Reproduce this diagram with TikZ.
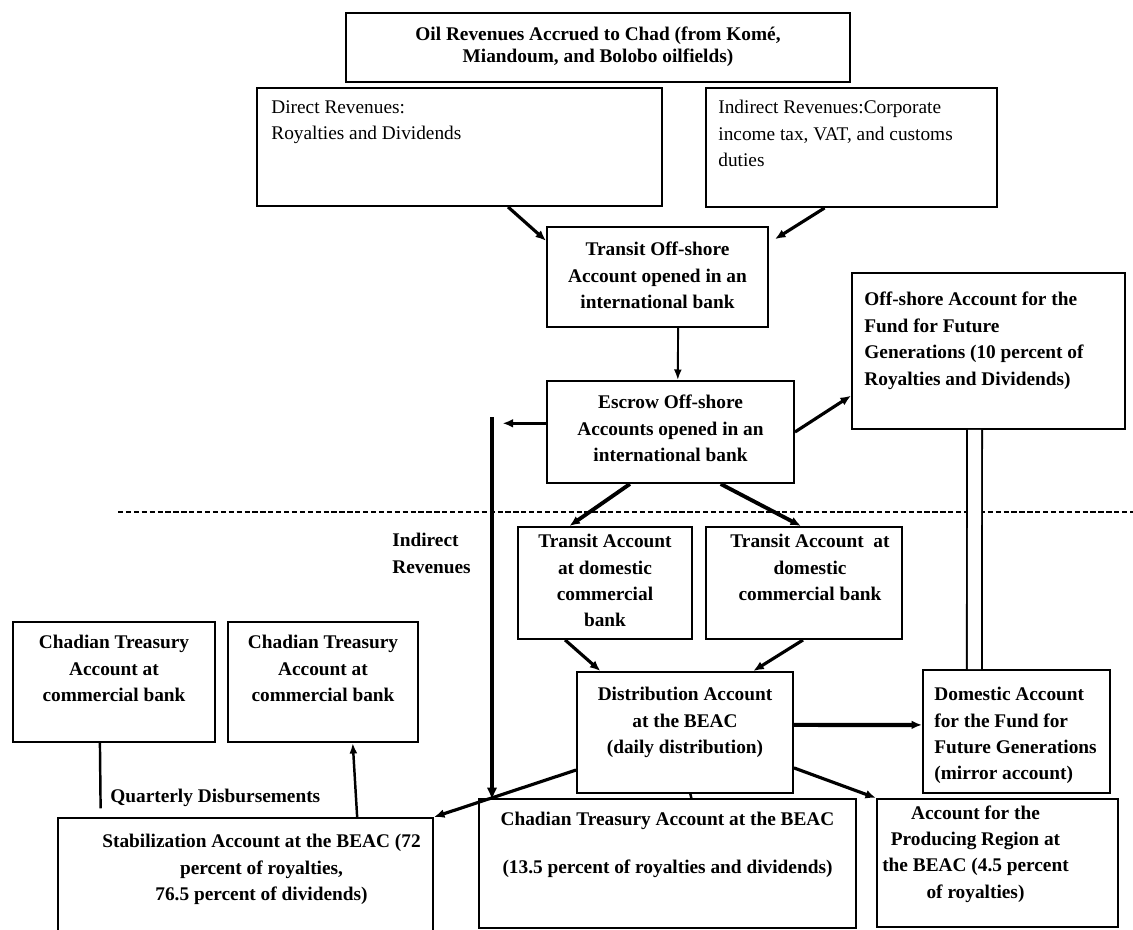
\documentclass[tikz,border=0pt]{standalone}
\usepackage{fontspec}
\setmainfont{Liberation Serif}
\usetikzlibrary{arrows.meta}

\tikzset{
  acct/.style 2 args={draw, line width=1.1pt, inner sep=0pt,
    minimum width=#1*0.02cm, minimum height=#2*0.02cm},
  txt/.style={inner sep=0pt, align=center, anchor=north,
    font=\fontsize{11}{15}\selectfont\bfseries},
  ltxt/.style={inner sep=0pt, align=left, anchor=north west,
    font=\fontsize{11}{15}\selectfont},
  flow/.style={line width=1.8pt, -{Latex[length=6pt,width=5pt]}},
  thinflow/.style={line width=1.1pt, -{Latex[length=6pt,width=4.5pt]}},
  link/.style={line width=1.4pt},
}

\begin{document}
\begin{tikzpicture}[x=0.02cm, y=-0.02cm]

\useasboundingbox (0,0) rectangle (1133,930);

% Boxes
\node[acct={504}{69}]  (oil)      at (598,47.5) {};
\node[acct={405}{118}] (direct)   at (459.5,147) {};
\node[acct={291}{119}] (indirect) at (851.5,147.5) {};
\node[acct={221}{100}] (toff)     at (657.5,277) {};
\node[acct={247}{102}] (escrow)   at (670.5,432) {};
\node[acct={273}{156}] (fund)     at (988.5,351) {};
\node[acct={174}{112}] (tr1)      at (605,583) {};
\node[acct={196}{112}] (tr2)      at (804,583) {};
\node[acct={216}{121}] (dist)     at (685,732.5) {};
\node[acct={187}{123}] (dom)      at (1016.5,731.5) {};
\node[acct={202}{120}] (ct1)      at (114,682) {};
\node[acct={190}{120}] (ct2)      at (323,682) {};
\node[acct={375}{127}] (stab)     at (245.5,881.5) {};
\node[acct={377}{129}] (ctb)      at (667.5,863.5) {};
\node[acct={241}{128}] (prod)     at (997.5,863) {};

% Texts
\node[txt, font=\fontsize{11}{12.5}\selectfont\bfseries] (oil-t) at ([shift={(0,15)}]oil.north)
  {Oil Revenues Accrued to Chad (from Komé,\\Miandoum, and Bolobo oilfields)};
\node[ltxt] (direct-t) at ([shift={(15,13)}]direct.north west)
  {Direct Revenues:\\Royalties and Dividends};
\node[ltxt] (indirect-t) at ([shift={(13,13)}]indirect.north west)
  {Indirect Revenues:Corporate\\income tax, VAT, and customs\\duties};
\node[txt] (toff-t) at ([shift={(0,16)}]toff.north)
  {Transit Off-shore\\Account opened in an\\international bank};
\node[txt] (escrow-t) at ([shift={(0,15)}]escrow.north)
  {Escrow Off-shore\\Accounts opened in an\\international bank};
\node[ltxt, font=\fontsize{11}{15}\selectfont\bfseries] (fund-t) at ([shift={(13,20)}]fund.north west)
  {Off-shore Account for the\\Fund for Future\\Generations (10 percent of\\Royalties and Dividends)};
\node[txt] (tr1-t) at ([shift={(0,8)}]tr1.north)
  {Transit Account\\at domestic\\commercial\\bank};
\node[txt] (tr2-t) at ([shift={(6,8)}]tr2.north)
  {Transit Account~ at\\domestic\\commercial bank};
\node[txt] (dist-t) at ([shift={(0,16)}]dist.north)
  {Distribution Account\\at the BEAC\\(daily distribution)};
\node[ltxt, font=\fontsize{11}{15}\selectfont\bfseries] (dom-t) at ([shift={(12,18)}]dom.north west)
  {Domestic Account\\for the Fund for\\Future Generations\\(mirror account)};
\node[txt] (ct1-t) at ([shift={(0,14)}]ct1.north)
  {Chadian Treasury\\Account at\\commercial bank};
\node[txt] (ct2-t) at ([shift={(0,14)}]ct2.north)
  {Chadian Treasury\\Account at\\commercial bank};
\node[txt] (stab-t) at ([shift={(16,17)}]stab.north)
  {Stabilization Account at the BEAC (72\\percent of royalties,\\76.5 percent of dividends)};
\node[txt] (ctb-t) at ([shift={(0,14)}]ctb.north)
  {Chadian Treasury Account at the BEAC\\[12pt](13.5 percent of royalties and dividends)};
\node[txt] (prod-t) at ([shift={(-22,7)}]prod.north)
  {Account for the\\Producing Region at\\the BEAC (4.5 percent\\of royalties)};

% Free labels
\node[ltxt, font=\fontsize{11}{15}\selectfont\bfseries] (ir-lbl) at (392,533)
  {Indirect\\Revenues};
\node[ltxt, anchor=west, font=\fontsize{11}{15}\selectfont\bfseries] (qd-lbl) at (110,798)
  {Quarterly Disbursements};

% Off-shore / domestic divide
\coordinate (div-l) at (118,512);
\coordinate (div-r) at (1133,512);
\draw[line width=0.8pt, dash pattern=on 3pt off 1.5pt] (div-l) -- (div-r);

% Indirect revenues channel
\coordinate (ir-top) at (492,417);
\coordinate (ir-end) at (492,800);
\draw[line width=2.6pt, -{Latex[length=7pt,width=6pt]}] (ir-top) -- (ir-end);

% Connectors
\draw[flow] (direct.-51.2) -- (toff.162.4);
\draw[flow, shorten >=4pt] (indirect.-114) -- (toff.17.6);
\draw[thinflow] (toff.-68.7) -- (escrow.82.7);
\draw[flow, shorten >=6pt] (escrow.176.8) -- (escrow.176.8 -| ir-top);
\draw[flow] (escrow.0.9) -- (fund.-162.9);
\draw[flow, line width=2.2pt] (escrow.-128.3) -- (tr1.122.7);
\draw[flow, line width=2.2pt] (escrow.-46.5) -- (tr2.93.1);
\draw[flow] (tr1.-125.5) -- (dist.144.2);
\draw[flow] (tr2.-91) -- (dist.42.1);
\draw[flow, line width=2.4pt] (dist.4) -- (dom.176);
\draw[flow] (dist.-18.2) -- (prod.north west);
\draw[flow] (dist.-161.8) -- (stab.north east);
\draw[link] (dist.-85.3) -- (ctb.70.8);
\draw[line width=1.1pt, double, double distance=0.26cm] (fund.-100.5) -- (dom.124.6);
\draw[link, shorten >=5pt] (ct1.-103.1) -- (stab.156.4);
\draw[link, -{Latex[length=6pt,width=4.5pt]}] (stab.30.8) -- (ct2.-64.2);

\end{tikzpicture}
\end{document}
